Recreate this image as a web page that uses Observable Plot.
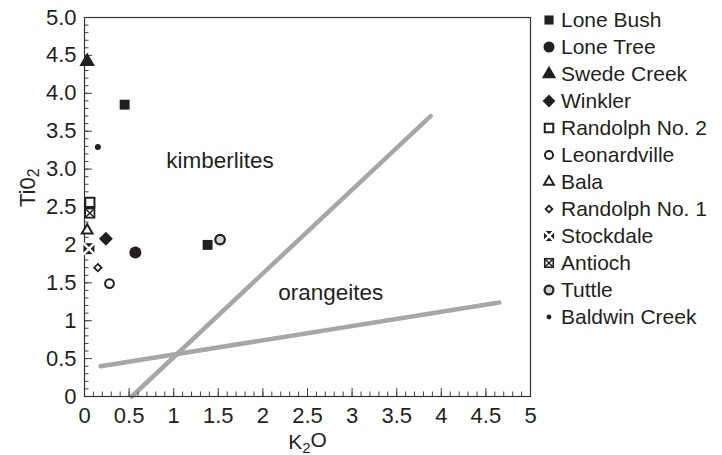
<!DOCTYPE html>
<html>
<head>
<meta charset="utf-8">
<script src="https://cdn.jsdelivr.net/npm/d3@7"></script>
<script src="https://cdn.jsdelivr.net/npm/@observablehq/plot@0.6"></script>
<style>
  html, body { margin: 0; padding: 0; background: #fff; }
  #wrap { position: relative; width: 722px; height: 455px; font-family: "Liberation Sans", Arial, sans-serif; color: #231f20; }
  #legend { position: absolute; left: 538px; top: 0; }
  .row { position: absolute; left: 0; height: 24px; display: flex; align-items: center; white-space: nowrap; font-size: 21px; }
  .row svg { width: 22px; height: 22px; margin-right: 1px; }
</style>
</head>
<body>
<div id="wrap"><div id="legend"></div></div>
<script>
// ---- data ----
const seriesNames = ["Lone Bush","Lone Tree","Swede Creek","Winkler","Randolph No. 2","Leonardville","Bala","Randolph No. 1","Stockdale","Antioch","Tuttle","Baldwin Creek"];
const sampleName = ["Lone Bush","Lone Bush","Lone Tree","Swede Creek","Winkler","Randolph No. 2","Antioch","Leonardville","Bala","Randolph No. 1","Stockdale","Tuttle","Baldwin Creek"];
const k2o  = [0.45, 1.38, 0.57, 0.03, 0.24, 0.06, 0.06, 0.28, 0.03, 0.15, 0.05, 1.52, 0.15];
const tio2 = [3.85, 2.00, 1.90, 4.42, 2.08, 2.56, 2.42, 1.49, 2.19, 1.70, 1.95, 2.07, 3.29];
// dividing lines (K2O, TiO2 end points)
const lineSteepK = [0.53, 3.88];
const lineSteepT = [0.0, 3.70];
const lineFlatK = [0.18, 4.65];
const lineFlatT = [0.40, 1.24];
const fieldLabels = ["kimberlites", "orangeites"];
const fieldK = [1.52, 2.76];
const fieldT = [3.11, 1.37];
const xTicks = [0, 0.5, 1, 1.5, 2, 2.5, 3, 3.5, 4, 4.5, 5];
const xTickLabels = ["0","0.5","1","1.5","2","2.5","3","3.5","4","4.5","5"];
const yTicks = [0, 0.5, 1, 1.5, 2, 2.5, 3, 3.5, 4, 4.5, 5];
const yTickLabels = ["0","0.5","1","1.5","2","2.5","3.0","3.5","4.0","4.5","5.0"];
const minorTicks = d3.range(0, 51).map(i => i / 10);

// ---- styles (layers per series) ----
const INK = "#231f20";
const styles = {
  "Lone Bush":      [{symbol: "square", fill: INK, r: 5.6}],
  "Lone Tree":      [{symbol: "circle", fill: INK, r: 6}],
  "Swede Creek":    [{symbol: "triangle", fill: INK, r: 5.8}],
  "Winkler":        [{symbol: "diamond2", fill: INK, r: 6.3}],
  "Randolph No. 2": [{symbol: "square", fill: "white", stroke: INK, strokeWidth: 2, r: 5.2}],
  "Leonardville":   [{symbol: "circle", fill: "white", stroke: INK, strokeWidth: 2, r: 4.4}],
  "Bala":           [{symbol: "triangle", fill: "white", stroke: INK, strokeWidth: 2, r: 4.0}],
  "Randolph No. 1": [{symbol: "diamond2", fill: "white", stroke: INK, strokeWidth: 1.8, r: 3.3}],
  "Stockdale":      [{symbol: "square", fill: INK, r: 6.2}, {symbol: "times", fill: "none", stroke: "white", strokeWidth: 2.4, r: 5.2}],
  "Antioch":        [{symbol: "square", fill: INK, r: 6.2}, {symbol: "square", fill: "white", r: 4.2}, {symbol: "times", fill: "none", stroke: INK, strokeWidth: 1.4, r: 3.6}],
  "Tuttle":         [{symbol: "circle", fill: "#d2d2d2", stroke: INK, strokeWidth: 2.2, r: 4.8}],
  "Baldwin Creek":  [{symbol: "circle", fill: INK, r: 3.0}]
};

const points = sampleName.map((n, i) => ({name: n, k: k2o[i], t: tio2[i]}));
const lines = [
  lineSteepK.map((k, i) => ({id: "a", k, t: lineSteepT[i]})),
  lineFlatK.map((k, i) => ({id: "b", k, t: lineFlatT[i]}))
].flat();
const labels = fieldLabels.map((s, i) => ({s, k: fieldK[i], t: fieldT[i]}));

const dotMarks = [];
for (const name of ["Lone Bush","Lone Tree","Swede Creek","Winkler","Randolph No. 2","Antioch","Leonardville","Bala","Randolph No. 1","Stockdale","Tuttle","Baldwin Creek"]) {
  const data = points.filter(p => p.name === name);
  for (const st of styles[name]) {
    dotMarks.push(Plot.dot(data, {x: "k", y: "t", symbol: () => st.symbol, fill: st.fill, stroke: st.stroke || "none", strokeWidth: st.strokeWidth || 0, r: st.r}));
  }
}

const W = 722, H = 455, ML = 84, MR = 192, MT = 17, MB = 59;
const innerW = W - ML - MR, innerH = H - MT - MB;
const TICKFONT = 22;
const chart = Plot.plot({
  width: W,
  height: H,
  marginLeft: ML,
  marginRight: MR,
  marginTop: MT,
  marginBottom: MB,
  style: {fontFamily: "'Liberation Sans', Arial, sans-serif", fontSize: "21px", color: INK, background: "white"},
  x: {domain: [0, 5], label: null},
  y: {domain: [0, 5], label: null},
  marks: [
    Plot.line(lines, {x: "k", y: "t", z: "id", stroke: "#a7a7a7", strokeWidth: 4.5}),
    // inward minor / major ticks
    Plot.tickX(minorTicks, {x: d => d, insetTop: innerH - 4.5, stroke: "#444", strokeWidth: 1}),
    Plot.tickX(xTicks, {x: d => d, insetTop: innerH - 8, stroke: "#444", strokeWidth: 1}),
    Plot.tickY(minorTicks, {y: d => d, insetRight: innerW - 4.5, stroke: "#444", strokeWidth: 1}),
    Plot.tickY(yTicks, {y: d => d, insetRight: innerW - 8, stroke: "#444", strokeWidth: 1}),
    Plot.axisX(xTicks, {tickSize: 0, tickPadding: 11, tickFormat: (d) => xTickLabels[xTicks.indexOf(d)], fontSize: TICKFONT, fill: INK, label: null}),
    Plot.axisY(yTicks, {tickSize: 0, tickPadding: 8, tickFormat: (d) => yTickLabels[yTicks.indexOf(d)], fontSize: TICKFONT, fill: INK, label: null}),
    Plot.frame({stroke: "#333", strokeWidth: 1.2}),
    Plot.text(labels, {x: "k", y: "t", text: "s", fontSize: 22.5, fill: INK}),
    Plot.text(["K2O"], {frameAnchor: "bottom", dy: 52, fontSize: 21, fill: INK}),
    Plot.text(["Ti02"], {frameAnchor: "left", dx: -57, rotate: -90, fontSize: 22, fill: INK}),
    ...dotMarks
  ]
});

// subscripts in axis titles
d3.select(chart).selectAll("text").each(function() {
  const t = this.textContent;
  if (t === "K2O" || t === "Ti02") {
    const sel = d3.select(this);
    sel.text(null);
    const parts = t === "K2O" ? ["K", "2", "O"] : ["Ti0", "2", ""];
    sel.append("tspan").text(parts[0]);
    sel.append("tspan").attr("dy", "0.3em").attr("font-size", "0.72em").text(parts[1]);
    if (parts[2]) sel.append("tspan").attr("dy", "-0.3em").text(parts[2]);
  }
});

document.getElementById("wrap").prepend(chart);
chart.style.position = "absolute";
chart.style.left = "0";
chart.style.top = "0";

// legend
const legend = d3.select("#legend");
seriesNames.forEach((name, i) => {
  const row = legend.append("div").attr("class", "row").style("top", (19.5 + i * 27 - 12) + "px");
  const svg = row.append("svg").attr("viewBox", "-11 -11 22 22");
  for (const st of styles[name]) {
    const type = {square: d3.symbolSquare, circle: d3.symbolCircle, triangle: d3.symbolTriangle, diamond2: d3.symbolDiamond2, times: d3.symbolTimes}[st.symbol];
    const r = name === "Baldwin Creek" ? 2.4 : st.r * 0.92;
    svg.append("path")
      .attr("d", d3.symbol(type, Math.PI * r * r)())
      .attr("fill", st.fill)
      .attr("stroke", st.stroke || "none")
      .attr("stroke-width", st.strokeWidth || 0);
  }
  row.append("span").text(name);
});
</script>
</body>
</html>
